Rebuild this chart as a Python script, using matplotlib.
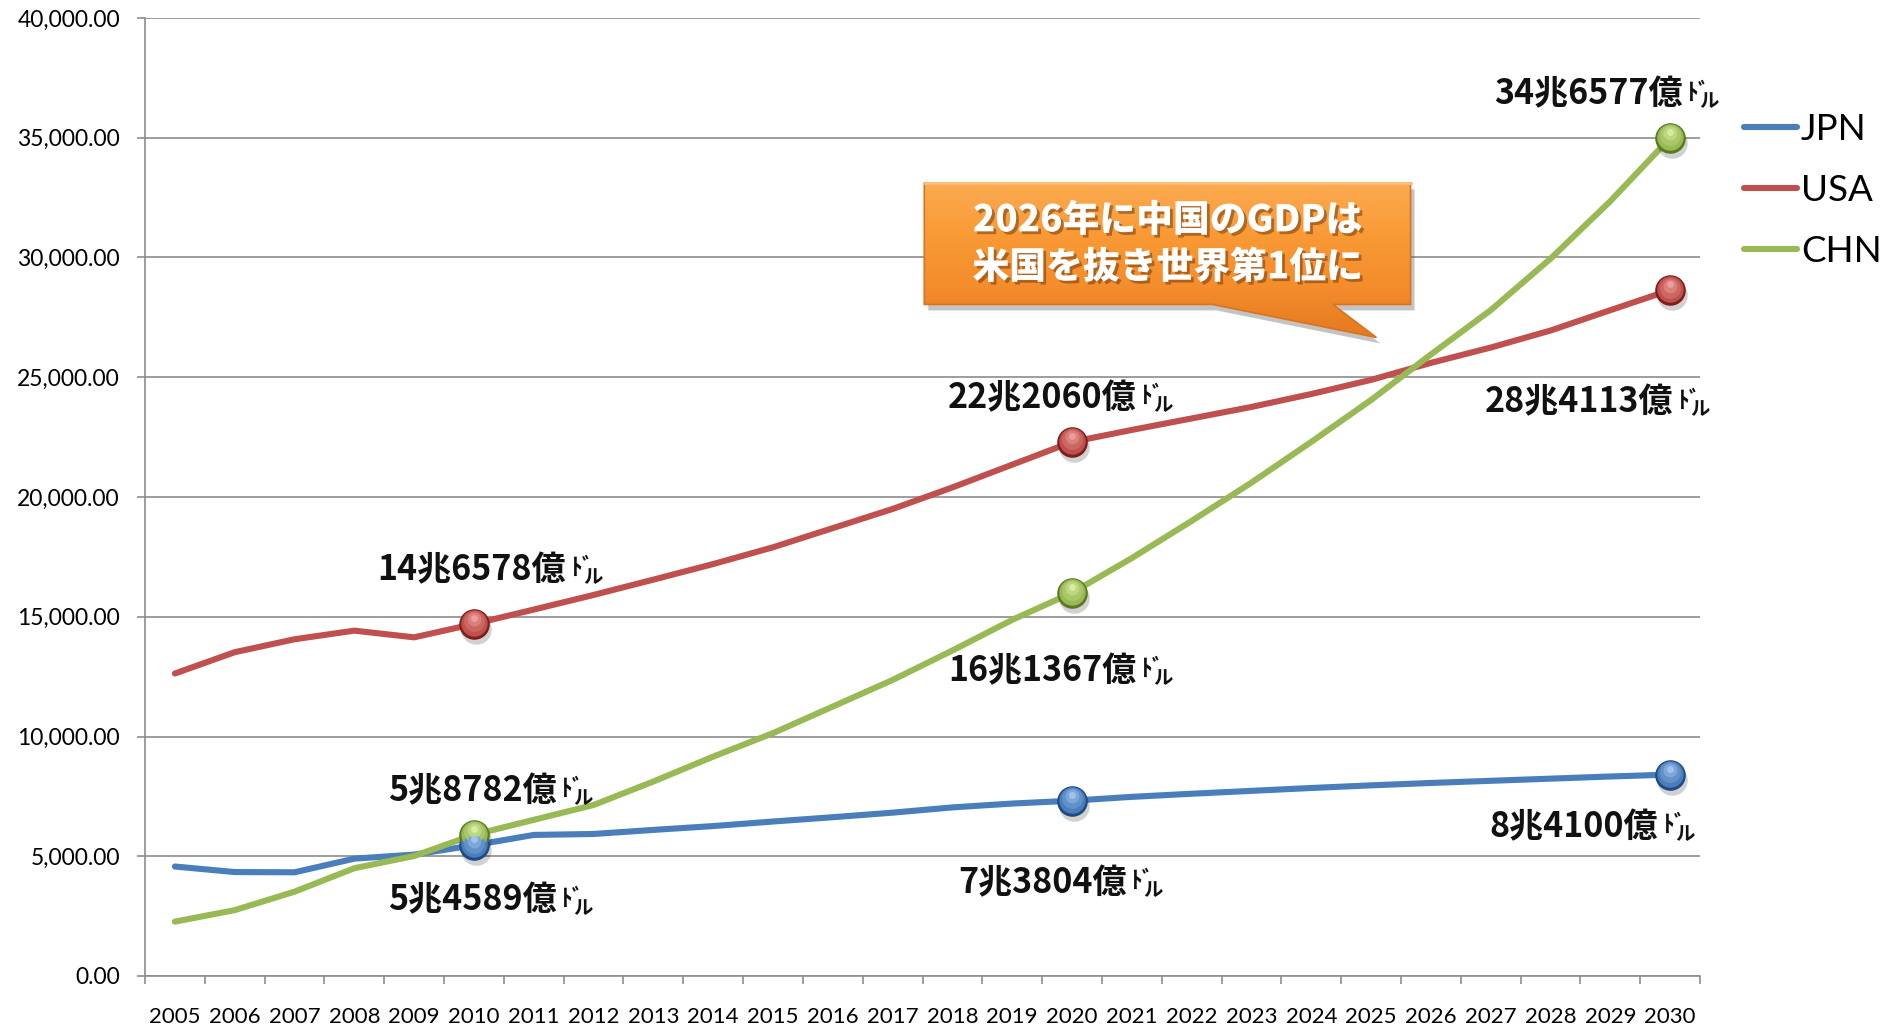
import numpy as np
import matplotlib
matplotlib.use("Agg")
import matplotlib.pyplot as plt
from matplotlib import patheffects as pe
from matplotlib.patches import Polygon
from matplotlib.colors import LinearSegmentedColormap, to_rgb
from matplotlib.transforms import offset_copy

plt.rcParams['font.family'] = ['Lato', 'Noto Sans CJK JP', 'DejaVu Sans']

# ---- data (GDP, billion USD) ----
years = list(range(2005, 2031))
jpn = [4571, 4340, 4330, 4900, 5070, 5460, 5890, 5930, 6100, 6260, 6450, 6630, 6820,
       7040, 7200, 7320, 7480, 7610, 7730, 7850, 7960, 8060, 8150, 8240, 8330, 8410]
usa = [12630, 13520, 14060, 14420, 14140, 14700, 15300, 15910, 16550, 17200, 17900, 18700,
       19500, 20400, 21350, 22300, 22800, 23280, 23760, 24300, 24890, 25600, 26240, 26950,
       27800, 28640]
chn = [2270, 2750, 3520, 4500, 5010, 5900, 6520, 7140, 8120, 9160, 10140, 11250, 12360,
       13590, 14870, 16000, 17450, 19000, 20600, 22300, 24050, 25950, 27800, 29950, 32350,
       34990]
series_names = ['JPN', 'USA', 'CHN']
marked_years = [2010, 2020, 2030]
value_labels = {
    'JPN': ['5兆4589億', '7兆3804億', '8兆4100億'],
    'USA': ['14兆6578億', '22兆2060億', '28兆4113億'],
    'CHN': ['5兆8782億', '16兆1367億', '34兆6577億'],
}
callout_text = "2026年に中国のGDPは\n米国を抜き世界第1位に"

# label offsets (pixels) from marker, per series and marked year
label_offsets = {
    'JPN': [(-2, -55), (-30, -82), (-96, -52)],
    'USA': [(-2, 54), (-30, 44), (-91, -112)],
    'CHN': [(-2, 44), (-30, -78), (-82, 44)],
}
styles = {
    'JPN': dict(color='#4A7EBB', dark='#1f4a85', light='#a9c9f0'),
    'USA': dict(color='#C0504D', dark='#7d1f1c', light='#f0a6a3'),
    'CHN': dict(color='#98B954', dark='#5a7a22', light='#dcf0a6'),
}
values = {'JPN': jpn, 'USA': usa, 'CHN': chn}

W, H = 1883, 1031
fig = plt.figure(figsize=(W / 100, H / 100), dpi=100)
ax = fig.add_axes([145 / W, 1 - 976 / H, (1700 - 145) / W, (976 - 18) / H])

x = np.arange(len(years))
ax.set_xlim(-0.5, len(years) - 0.5)
ax.set_ylim(0, 40000)

# grid / axes styling
ax.set_yticks(np.arange(0, 40001, 5000))
ax.yaxis.set_major_formatter(matplotlib.ticker.FuncFormatter(lambda v, p: f"{v:,.2f}"))
ax.grid(axis='y', color='#8c8c8c', lw=1.2)
ax.set_axisbelow(True)
for s in ['top', 'right']:
    ax.spines[s].set_visible(False)
for s in ['left', 'bottom']:
    ax.spines[s].set_color('#8c8c8c')
    ax.spines[s].set_linewidth(1.2)
ax.set_xticks(x)
ax.set_xticklabels([str(y) for y in years])
ax.set_xticks(np.arange(-0.5, len(years)), minor=True)
ax.tick_params(axis='x', which='major', length=0, pad=22, labelsize=16)
ax.tick_params(axis='x', which='minor', length=6, width=1.2, color='#8c8c8c')
ax.tick_params(axis='y', length=6, width=1.2, color='#8c8c8c', pad=12, labelsize=16.5)

# lines
handles = []
for name in series_names:
    st = styles[name]
    h, = ax.plot(x, values[name], color=st['color'], lw=4.4, solid_capstyle='round',
                 solid_joinstyle='round', zorder=3, label=name)
    handles.append(h)


def sphere(xi, yi, st):
    shadow = offset_copy(ax.transData, fig=fig, x=2, y=-5, units='dots')
    ax.plot(xi, yi, 'o', ms=22, color='black', alpha=0.18, mec='none',
            transform=shadow, zorder=4)
    ax.plot(xi, yi, 'o', ms=21, mfc=st['dark'], mec=st['dark'], mew=1, zorder=5)
    c0 = np.array(to_rgb(st['color']))
    c1 = np.array(to_rgb(st['light']))
    layers = [(19, 1.0, 0.0), (15, 2.5, 0.25), (10, 4.5, 0.55), (5, 6.0, 0.9)]
    for k, (ms, dy, t) in enumerate(layers):
        col = c0 * (1 - t) + c1 * t
        tr = offset_copy(ax.transData, fig=fig, x=0, y=dy, units='dots')
        ax.plot(xi, yi, 'o', ms=ms, mfc=col, mec='none', transform=tr, zorder=6 + k)


for name in series_names:
    st = styles[name]
    for j, yr in enumerate(marked_years):
        i = years.index(yr)
        v = values[name][i]
        sphere(x[i], v, st)
        t = ax.annotate(value_labels[name][j], xy=(x[i], v), xytext=label_offsets[name][j],
                        textcoords='offset pixels', ha='center', va='center',
                        fontsize=24.5, fontweight='bold', family=['Noto Sans CJK JP'],
                        color='#111111', zorder=12)
        ax.annotate('ﾄﾞ', xy=(1, 1), xycoords=t, xytext=(4, -4), textcoords='offset pixels',
                    ha='left', va='top', fontsize=17, fontweight='bold',
                    family=['Noto Sans CJK JP'], color='#111111', zorder=12)
        ax.annotate('ル', xy=(1, 0), xycoords=t, xytext=(17, 0), textcoords='offset pixels',
                    ha='left', va='bottom', fontsize=14, fontweight='bold',
                    family=['Noto Sans CJK JP'], color='#111111', zorder=12)

# callout (position in category / value space)
L, R, T, B = 12.53, 20.66, 33100, 28040
tb1, tb2, tip = 17.35, 19.36, (20.09, 26660)
verts = [(L, T), (R, T), (R, B), (tb2, B), tip, (tb1, B), (L, B)]
sh = offset_copy(ax.transData, fig=fig, x=4, y=-6, units='dots')
ax.add_patch(Polygon(verts, closed=True, fc='#555555', ec='none', alpha=0.35,
                     transform=sh, zorder=13))
poly = Polygon(verts, closed=True, fc='none', ec='#d9731c', lw=1.2, zorder=15)
ax.add_patch(poly)
cmap = LinearSegmentedColormap.from_list('org', ['#e47a22', '#f48d2c', '#f99a36', '#fbab52'])
grad = np.linspace(0, 1, 256).reshape(-1, 1)
im = ax.imshow(grad, extent=[L, R, tip[1], T], origin='lower', aspect='auto', cmap=cmap,
               zorder=14, interpolation='bicubic')
im.set_clip_path(poly)
ax.plot([L, R], [T, T], color='#fcc07a', lw=2, zorder=15.5)
ax.text((L + R) / 2, (T + B) / 2, callout_text, ha='center', va='center', fontsize=26.5,
        fontweight='heavy', family=['Noto Sans CJK JP'], color='white', linespacing=1.3,
        zorder=16,
        path_effects=[pe.withSimplePatchShadow(offset=(2, -2), shadow_rgbFace='#7a3a08',
                                               alpha=0.55)])
ax.set_xlim(-0.5, len(years) - 0.5)
ax.set_ylim(0, 40000)

# legend
leg = fig.legend(handles=handles, loc='upper left', bbox_to_anchor=(1729 / W, 1 - 98 / H),
                 frameon=False, fontsize=26.5, handlelength=1.45, handletextpad=0.1,
                 labelspacing=0.76, borderaxespad=0)
for lh in leg.get_lines():
    lh.set_linewidth(4.4)
    lh.set_solid_capstyle('round')

fig.savefig('out.png', dpi=100)
